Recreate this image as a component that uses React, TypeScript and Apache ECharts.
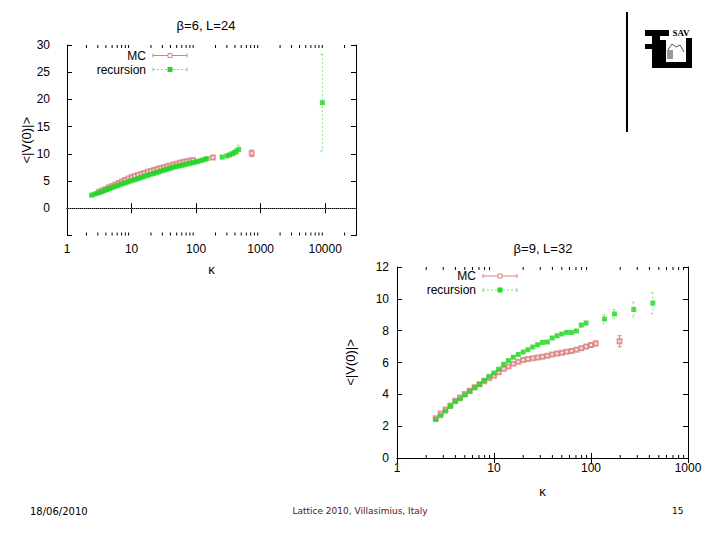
import React, { useEffect, useRef } from "react";
import * as echarts from "echarts";

// ---------- chart 1 : beta=6, L=24 ----------
const C1_TITLE = "\u03b2=6, L=24";
const C1_X_LABELS = ["1", "10", "100", "1000", "10000"];
const C1_Y_LABELS = ["0", "5", "10", "15", "20", "25", "30"];
const C1_MINOR = [2, 3, 4, 5, 6, 7, 8, 9, 20, 30, 40, 50, 60, 70, 80, 90, 200, 300, 400, 500, 600, 700, 800, 900, 2000, 3000, 4000, 5000, 6000, 7000, 8000, 9000, 20000];

const C1_MC_K = [3.16, 3.55, 3.98, 4.47, 5.01, 5.62, 6.31, 7.08, 7.94, 8.91, 10.0, 11.2, 12.6, 14.1, 15.8, 17.8, 20.0, 22.4, 25.1, 28.2, 31.6, 35.5, 39.8, 44.7, 50.1, 56.2, 63.1, 70.8, 79.4, 89.1, 182, 727];
const C1_MC_V = [3.05, 3.3, 3.55, 3.85, 4.1, 4.38, 4.65, 4.92, 5.2, 5.45, 5.7, 5.92, 6.12, 6.32, 6.5, 6.7, 6.85, 7.02, 7.2, 7.4, 7.55, 7.72, 7.88, 8.05, 8.2, 8.35, 8.5, 8.62, 8.75, 8.88, 9.35, 10.1];
const C1_MC_E = [0.1, 0.1, 0.1, 0.1, 0.1, 0.1, 0.1, 0.1, 0.1, 0.1, 0.12, 0.12, 0.12, 0.12, 0.12, 0.12, 0.12, 0.14, 0.14, 0.14, 0.14, 0.14, 0.15, 0.15, 0.15, 0.15, 0.16, 0.16, 0.17, 0.18, 0.3, 0.6];

const C1_RC_K = [2.4, 2.63, 2.88, 3.16, 3.47, 3.8, 4.17, 4.57, 5.01, 5.5, 6.03, 6.61, 7.24, 7.94, 8.71, 9.55, 10.5, 11.5, 12.6, 13.8, 15.1, 16.6, 18.2, 20.0, 21.9, 24.0, 26.3, 28.8, 31.6, 34.7, 38.0, 41.7, 45.7, 50.1, 55.0, 60.3, 66.1, 72.4, 79.4, 87.1, 95.5, 105, 115, 126, 138, 148, 253, 300, 330, 360, 390, 420, 458, 9040];
const C1_RC_V = [2.4, 2.57, 2.74, 2.9, 3.08, 3.26, 3.44, 3.62, 3.8, 3.98, 4.16, 4.33, 4.49, 4.65, 4.82, 4.99, 5.15, 5.3, 5.45, 5.61, 5.77, 5.93, 6.09, 6.25, 6.39, 6.53, 6.67, 6.84, 7.0, 7.14, 7.28, 7.42, 7.56, 7.7, 7.8, 7.9, 8.0, 8.13, 8.25, 8.35, 8.45, 8.58, 8.72, 8.86, 9.0, 9.15, 9.4, 9.62, 9.8, 10.0, 10.2, 10.45, 10.8, 19.4];
const C1_RC_E = [0.05, 0.05, 0.05, 0.05, 0.05, 0.05, 0.05, 0.05, 0.05, 0.05, 0.05, 0.05, 0.05, 0.05, 0.05, 0.05, 0.06, 0.06, 0.06, 0.06, 0.06, 0.06, 0.06, 0.06, 0.06, 0.06, 0.07, 0.07, 0.07, 0.07, 0.07, 0.07, 0.08, 0.08, 0.08, 0.08, 0.08, 0.09, 0.09, 0.1, 0.1, 0.1, 0.1, 0.12, 0.12, 0.14, 0.25, 0.3, 0.3, 0.35, 0.4, 0.5, 0.8, 8.9];

// ---------- chart 2 : beta=9, L=32 ----------
const C2_TITLE = "\u03b2=9, L=32";
const C2_X_LABELS = ["1", "10", "100", "1000"];
const C2_Y_LABELS = ["0", "2", "4", "6", "8", "10", "12"];
const C2_MINOR = [2, 3, 4, 5, 6, 7, 8, 9, 20, 30, 40, 50, 60, 70, 80, 90, 200, 300, 400, 500, 600, 700, 800, 900];

const C2_MC_K = [2.51, 2.82, 3.16, 3.55, 3.98, 4.47, 5.01, 5.62, 6.31, 7.08, 7.94, 8.91, 10.0, 11.2, 12.6, 14.1, 15.8, 17.8, 20.0, 22.4, 25.1, 28.2, 31.6, 35.5, 39.8, 44.7, 50.1, 56.2, 63.1, 70.8, 79.4, 89.1, 100, 112, 197];
const C2_MC_V = [2.5, 2.8, 3.05, 3.3, 3.6, 3.8, 4.02, 4.22, 4.45, 4.63, 4.82, 5.02, 5.17, 5.38, 5.6, 5.75, 5.92, 6.05, 6.15, 6.22, 6.27, 6.32, 6.36, 6.42, 6.5, 6.57, 6.62, 6.68, 6.73, 6.8, 6.9, 7.0, 7.1, 7.2, 7.33];
const C2_MC_E = [0.08, 0.08, 0.08, 0.08, 0.08, 0.08, 0.08, 0.08, 0.08, 0.08, 0.08, 0.08, 0.08, 0.08, 0.08, 0.08, 0.08, 0.08, 0.08, 0.08, 0.08, 0.08, 0.09, 0.09, 0.09, 0.1, 0.1, 0.1, 0.11, 0.11, 0.12, 0.13, 0.14, 0.15, 0.35];

const C2_RC_K = [2.51, 2.82, 3.16, 3.55, 3.98, 4.47, 5.01, 5.62, 6.31, 7.08, 7.94, 8.91, 10.0, 11.2, 12.6, 14.1, 15.8, 17.8, 20.0, 22.4, 25.1, 28.2, 31.6, 35.5, 39.8, 44.7, 50.1, 56.2, 63.1, 70.8, 79.4, 89.1, 138, 175, 276, 434];
const C2_RC_V = [2.41, 2.66, 2.95, 3.24, 3.54, 3.72, 3.96, 4.18, 4.42, 4.62, 4.88, 5.13, 5.34, 5.58, 5.89, 6.12, 6.33, 6.51, 6.66, 6.8, 6.97, 7.12, 7.26, 7.29, 7.54, 7.68, 7.79, 7.89, 7.89, 7.98, 8.35, 8.48, 8.73, 9.05, 9.33, 9.73];
const C2_RC_E = [0.05, 0.05, 0.05, 0.05, 0.05, 0.05, 0.05, 0.05, 0.05, 0.05, 0.05, 0.05, 0.05, 0.05, 0.05, 0.05, 0.05, 0.05, 0.05, 0.06, 0.06, 0.06, 0.06, 0.06, 0.07, 0.07, 0.07, 0.08, 0.08, 0.09, 0.1, 0.11, 0.27, 0.28, 0.46, 0.66];

// ---------- slide texts ----------
const Y_NAME = "<|V(0)|>";
const X_NAME = "\u03ba";
const LEGEND = ["MC", "recursion"];
const FOOTER_DATE = "18/06/2010";
const FOOTER_CENTER = "Lattice 2010, Villasimius, Italy";
const FOOTER_PAGE = "15";

const MC_COLOR = "#d98080";
const RC_COLOR = "#22d622";
const RC_BAR = "#7ee07e";
const FONT = "Liberation Sans";

const zip3 = (a: number[], b: number[], c: number[]) => a.map((v, i) => [v, b[i], c[i]]);

function errRender(color: string, cap: number, dash: number[] | null) {
  return (params: any, api: any) => {
    const x = api.value(0);
    const y = api.value(1);
    const e = api.value(2);
    const hi = api.coord([x, y + e]);
    const lo = api.coord([x, y - e]);
    const style: any = { stroke: color, lineWidth: 1, lineDash: dash || undefined };
    return {
      type: "group",
      children: [
        { type: "line", shape: { x1: hi[0], y1: hi[1], x2: lo[0], y2: lo[1] }, style },
        { type: "line", shape: { x1: hi[0] - cap, y1: hi[1], x2: hi[0] + cap, y2: hi[1] }, style },
        { type: "line", shape: { x1: lo[0] - cap, y1: lo[1], x2: lo[0] + cap, y2: lo[1] }, style },
      ],
    };
  };
}

function minorRender(yMin: number, yMax: number) {
  return (params: any, api: any) => {
    const v = api.value(0);
    const b = api.coord([v, yMin]);
    const t = api.coord([v, yMax]);
    const style = { stroke: "#000", lineWidth: 1 };
    return {
      type: "group",
      children: [
        { type: "line", shape: { x1: b[0], y1: b[1], x2: b[0], y2: b[1] - 3 }, style },
        { type: "line", shape: { x1: t[0], y1: t[1], x2: t[0], y2: t[1] + 3 }, style },
      ],
    };
  };
}

function buildAxes(grid: number, xMax: number, xLabels: string[], yMin: number, yMax: number, yInt: number, yLabels: string[], yMargin: number, yGap: number, xMargin: number) {
  const line = { show: true, lineStyle: { color: "#000", width: 1 } };
  const tick = { show: true, inside: true, length: 5, lineStyle: { color: "#000" } };
  const label = { fontFamily: FONT, fontSize: 12, color: "#000" };
  const xa = [
    {
      type: "log", logBase: 10, gridIndex: grid, min: 1, max: xMax, position: "bottom",
      axisLine: line, axisTick: tick, splitLine: { show: false },
      axisLabel: { ...label, margin: xMargin, formatter: (v: number) => (xLabels.indexOf(String(Math.round(v))) >= 0 && Math.abs(Math.log10(v) - Math.round(Math.log10(v))) < 1e-6 ? String(Math.round(v)) : "") },
      name: X_NAME, nameLocation: "middle", nameGap: 27, nameTextStyle: { fontFamily: FONT, fontSize: 13, color: "#000" },
    },
    {
      type: "log", logBase: 10, gridIndex: grid, min: 1, max: xMax, position: "top",
      axisLine: line, axisTick: tick, splitLine: { show: false }, axisLabel: { show: false },
    },
  ];
  const ya = [
    {
      type: "value", gridIndex: grid, min: yMin, max: yMax, interval: yInt, position: "left",
      axisLine: line, axisTick: tick, splitLine: { show: false },
      axisLabel: { ...label, margin: yMargin, formatter: (v: number) => (yLabels.indexOf(String(v)) >= 0 ? String(v) : "") },
      name: Y_NAME, nameLocation: "middle", nameGap: yGap, nameRotate: 90, nameTextStyle: { fontFamily: FONT, fontSize: 13, color: "#000" },
    },
    {
      type: "value", gridIndex: grid, min: yMin, max: yMax, interval: yInt, position: "right",
      axisLine: line, axisTick: tick, splitLine: { show: false }, axisLabel: { show: false },
    },
  ];
  return { xa, ya };
}

function legendGraphics(xr: number, y0: number) {
  const txt = (t: string, y: number) => ({
    type: "text", x: xr, y, style: { text: t, fontFamily: FONT, fontSize: 12, lineHeight: 12, fill: "#000", align: "right", verticalAlign: "middle" },
  });
  const x1 = xr + 7;
  const x2 = xr + 41;
  const xm = (x1 + x2) / 2;
  const y1 = y0 + 14;
  return [
    txt(LEGEND[0], y0),
    { type: "line", shape: { x1, y1: y0, x2, y2: y0 }, style: { stroke: MC_COLOR, lineWidth: 1 } },
    { type: "line", shape: { x1, y1: y0 - 2, x2: x1, y2: y0 + 2 }, style: { stroke: MC_COLOR, lineWidth: 1 } },
    { type: "line", shape: { x1: x2, y1: y0 - 2, x2, y2: y0 + 2 }, style: { stroke: MC_COLOR, lineWidth: 1 } },
    { type: "rect", shape: { x: xm - 2, y: y0 - 2, width: 4, height: 4 }, style: { fill: "#fff", stroke: MC_COLOR, lineWidth: 1 } },
    txt(LEGEND[1], y1),
    { type: "line", shape: { x1, y1, x2, y2: y1 }, style: { stroke: RC_BAR, lineWidth: 1, lineDash: [2, 2] } },
    { type: "line", shape: { x1, y1: y1 - 2, x2: x1, y2: y1 + 2 }, style: { stroke: RC_BAR, lineWidth: 1 } },
    { type: "line", shape: { x1: x2, y1: y1 - 2, x2, y2: y1 + 2 }, style: { stroke: RC_BAR, lineWidth: 1 } },
    { type: "rect", shape: { x: xm - 2.5, y: y1 - 2.5, width: 5, height: 5 }, style: { fill: RC_COLOR } },
  ];
}

export default function App() {
  const ref = useRef<HTMLDivElement>(null);
  useEffect(() => {
    if (!ref.current) return;
    const chart = echarts.init(ref.current, null, { renderer: "svg" });
    const a1 = buildAxes(0, 30000, C1_X_LABELS, -5, 30, 5, C1_Y_LABELS, 17, 34, 7);
    const a2 = buildAxes(1, 1000, C2_X_LABELS, 0, 12, 2, C2_Y_LABELS, 8, 40, 4);
    const xAxis = [...a1.xa, ...a2.xa];
    const yAxis = [...a1.ya, ...a2.ya];

    const scatter = (name: string, xi: number, yi: number, k: number[], v: number[], mc: boolean, extra: any = {}) => ({
      type: "scatter", name, xAxisIndex: xi, yAxisIndex: yi,
      data: k.map((x, i) => [x, v[i]]),
      symbol: mc ? "emptyRect" : "rect",
      symbolSize: mc ? 4 : 5,
      itemStyle: mc ? { color: MC_COLOR, borderColor: MC_COLOR, borderWidth: 1 } : { color: RC_COLOR },
      z: mc ? 3 : 5, silent: true, ...extra,
    });
    const errs = (xi: number, yi: number, data: number[][], color: string, cap: number, dash: number[] | null, z: number) => ({
      type: "custom", xAxisIndex: xi, yAxisIndex: yi, data, encode: { x: 0, y: 1 },
      renderItem: errRender(color, cap, dash), silent: true, z, clip: false,
    });
    const minors = (xi: number, yi: number, vals: number[], yMin: number, yMax: number) => ({
      type: "custom", xAxisIndex: xi, yAxisIndex: yi, data: vals.map((v) => [v, yMin]), encode: { x: 0, y: 1 },
      renderItem: minorRender(yMin, yMax), silent: true, z: 1, clip: false,
    });

    const option: any = {
      animation: false,
      backgroundColor: "#fff",
      grid: [
        { left: 67, top: 45, width: 289, height: 190.5 },
        { left: 397, top: 267, width: 291, height: 191 },
      ],
      xAxis,
      yAxis,
      series: [
        minors(0, 0, C1_MINOR, -5, 30),
        minors(2, 2, C2_MINOR, 0, 12),
        errs(0, 0, zip3(C1_MC_K, C1_MC_V, C1_MC_E), MC_COLOR, 2, null, 2),
        scatter("MC", 0, 0, C1_MC_K, C1_MC_V, true, {
          markLine: {
            silent: true, symbol: "none", label: { show: false },
            lineStyle: { type: "dotted", color: "#666", width: 1 },
            data: [{ yAxis: 0 }],
          },
        }),
        errs(0, 0, zip3(C1_RC_K, C1_RC_V, C1_RC_E), RC_BAR, 2, [2, 2], 4),
        scatter("recursion", 0, 0, C1_RC_K, C1_RC_V, false),
        errs(2, 2, zip3(C2_MC_K, C2_MC_V, C2_MC_E), MC_COLOR, 2, null, 2),
        scatter("MC", 2, 2, C2_MC_K, C2_MC_V, true),
        errs(2, 2, zip3(C2_RC_K, C2_RC_V, C2_RC_E), RC_BAR, 2, [2, 2], 4),
        scatter("recursion", 2, 2, C2_RC_K, C2_RC_V, false),
      ],
      graphic: [
        { type: "text", x: 206, y: 25, style: { text: C1_TITLE, fontFamily: FONT, fontSize: 13, fill: "#000", align: "center", verticalAlign: "middle" } },
        { type: "text", x: 543, y: 248, style: { text: C2_TITLE, fontFamily: FONT, fontSize: 13, fill: "#000", align: "center", verticalAlign: "middle" } },
        ...legendGraphics(146, 55.5),
        ...legendGraphics(476, 276),
        // separator line near the logo
        { type: "line", shape: { x1: 627, y1: 12, x2: 627, y2: 132 }, style: { stroke: "#000", lineWidth: 2 } },
        // logo (approximate)
        { type: "rect", shape: { x: 645, y: 30, width: 24, height: 6 }, style: { fill: "#000" } },
        { type: "rect", shape: { x: 645, y: 44, width: 18, height: 5 }, style: { fill: "#000" } },
        { type: "rect", shape: { x: 652, y: 30, width: 8, height: 38 }, style: { fill: "#000" } },
        { type: "rect", shape: { x: 660, y: 40, width: 6, height: 28 }, style: { fill: "#000" } },
        { type: "rect", shape: { x: 660, y: 62, width: 32, height: 6 }, style: { fill: "#000" } },
        { type: "rect", shape: { x: 686, y: 38, width: 6, height: 30 }, style: { fill: "#000" } },
        { type: "polyline", shape: { points: [[668, 50], [672, 44], [676, 47], [680, 45], [684, 52]] }, style: { stroke: "#555", lineWidth: 1, fill: null } },
        { type: "rect", shape: { x: 667, y: 50, width: 6, height: 9 }, style: { fill: "#999" } },
        { type: "text", x: 681, y: 33, style: { text: "SAV", fontFamily: "Liberation Serif", fontWeight: "bold", fontSize: 9, fill: "#000", align: "center", verticalAlign: "middle" } },
        // footer
        { type: "text", x: 30, y: 511, style: { text: FOOTER_DATE, fontFamily: "DejaVu Sans", fontSize: 10, fill: "#000", verticalAlign: "middle" } },
        { type: "text", x: 360, y: 511, style: { text: FOOTER_CENTER, fontFamily: "DejaVu Sans", fontSize: 9, fill: "#5a1414", align: "center", verticalAlign: "middle" } },
        { type: "text", x: 672, y: 511, style: { text: FOOTER_PAGE, fontFamily: "DejaVu Sans", fontSize: 9, fill: "#000", verticalAlign: "middle" } },
      ],
    };
    chart.setOption(option);
    return () => chart.dispose();
  }, []);
  return <div ref={ref} style={{ position: "fixed", left: 0, top: 0, width: 720, height: 540, background: "#fff" }} />;
}
